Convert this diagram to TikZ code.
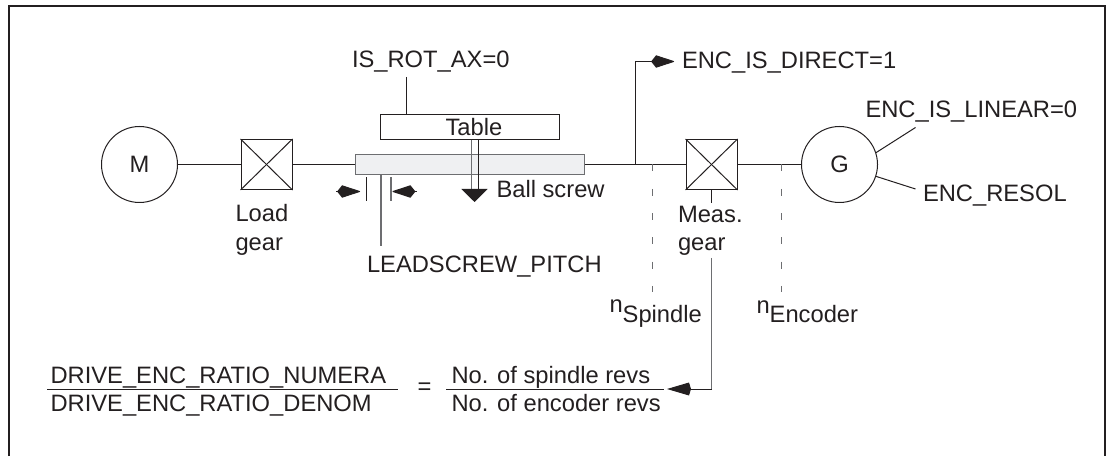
\documentclass[tikz,border=0pt]{standalone}
\usepackage{fontspec}
\setmainfont{Liberation Sans}
\usetikzlibrary{arrows.meta}
\definecolor{inkdark}{HTML}{231F20}
\definecolor{inkgrey}{HTML}{6D6E71}
\definecolor{screwfill}{HTML}{EFF0F2}
\tikzset{
    lbl/.style={inner sep=0pt, anchor=base west},
    lbltwo/.style={inner sep=0pt, anchor=north west, align=left},
    machine/.style={draw, circle, inner sep=0pt, minimum size=1.52cm},
    gearbox/.style={draw, rectangle, inner sep=0pt, minimum width=1.02cm, minimum height=1cm},
    kitetip/.style={-{Kite[length=.48cm, width=.25cm, inset=.1cm, round]}},
    bluntkite/.style={-{Kite[length=.48cm, width=.26cm, inset=.04cm]}},
    speedline/.style={dash pattern=on .14cm off .346cm},
}
\begin{document}
\begin{tikzpicture}[line width=.02cm, color=inkdark, font=\fontsize{13.5}{16.3}\selectfont]
        \useasboundingbox (0,0) rectangle (22.18,9.12);
        % This draws the frame, it has no line at the bottom.
            \draw[line width=.04cm] (0.18,0) -- (0.18,9) -- (22.09,9) -- (22.09,0);
        % The drive train.
            \node[machine] (motor) at (2.79,5.83) {M};
            \node[gearbox] (loadgear) at (5.33,5.83) {};
            \node[draw=inkgrey, fill=screwfill, line width=.03cm, inner sep=0pt, minimum width=4.58cm, minimum height=.4cm] (screw) at (9.40,5.83) {};
            \node[draw, inner sep=0pt, minimum width=3.57cm, minimum height=.51cm] (table) at (9.40,6.58) {};
            \node[gearbox] (measgear) at (14.23,5.83) {};
            \node[machine] (encoder) at (16.79,5.83) {G};
            \draw (motor) -- (loadgear);
            \draw (loadgear) -- (screw);
            \draw (screw) -- (measgear);
            \draw (measgear) -- (encoder);
        % This draws the crosses in the gears.
            \draw (loadgear.north west) -- (loadgear.south east);
            \draw (loadgear.north east) -- (loadgear.south west);
            \draw (measgear.north west) -- (measgear.south east);
            \draw (measgear.north east) -- (measgear.south west);
        % Below nodes are the labels.
            \node[lbl] (rotlabel) at (7.03,7.77) {IS\_ROT\_AX=0};
            \node[lbl] (tablelabel) at (8.90,6.40) {Table};
            \node[lbl] (balllabel) at (9.92,5.16) {Ball screw};
            \node[lbl] (pitchlabel) at (7.33,3.67) {LEADSCREW\_PITCH};
            \node[lbl] (directlabel) at (13.63,7.75) {ENC\_IS\_DIRECT=1};
            \node[lbl] (linearlabel) at (17.30,6.77) {ENC\_IS\_LINEAR=0};
            \node[lbl] (resollabel) at (18.45,5.08) {ENC\_RESOL};
            \node[lbltwo] (loadlabel) at (4.70,5.04) {Load\\gear};
            \node[lbltwo] (measlabel) at (13.55,5.01) {Meas.\\gear};
            \node[lbl] (spindlelabel) at (12.18,2.87) {n\raisebox{-.208cm}{Spindle}};
            \node[lbl] (encoderlabel) at (15.12,2.85) {n\raisebox{-.17cm}{Encoder}};
        % The ratio at the bottom.
            \node[lbl] (numera) at (1.00,1.46) {DRIVE\_ENC\_RATIO\_NUMERA};
            \node[lbl] (denom) at (1.00,.886) {DRIVE\_ENC\_RATIO\_DENOM};
            \node[inner sep=0pt] (equals) at (8.49,1.34) {=};
            \node[lbl] (spindlerevs) at (9.02,1.46) {No. of spindle revs};
            \node[lbl] (encoderrevs) at (9.02,.886) {No. of encoder revs};
            \coordinate (ratioa) at (.94,1.34);
            \coordinate (ratiob) at (7.95,1.34);
            \coordinate (ratioc) at (8.92,1.34);
            \coordinate (ratiod) at (13.28,1.34);
            \draw (ratioa) -- (ratiob);
            \draw (ratioc) -- (ratiod);
        % Free ends of the leader lines.
            \coordinate (rottop) at (8.13,7.58);
            \coordinate (tap) at (12.71,5.83);
            \coordinate (directtip) at (13.48,7.89);
            \coordinate (linearend) at (18.31,6.57);
            \coordinate (resolend) at (18.31,5.34);
            \coordinate (pitchend) at (7.62,4.19);
            \coordinate (measend) at (14.23,5.06);
            \coordinate (measstart) at (14.23,3.96);
            \coordinate (meastip) at (13.34,1.34);
        % Leader lines.
            \draw (rottop) -- (rottop |- table.north);
            \draw[kitetip] (tap) |- (directtip);
            \draw (encoder.18) -- (linearend);
            \draw (encoder.-18) -- (resolend);
            \draw[inkgrey, line width=.03cm] (pitchend |- screw.south) -- (pitchend);
            \draw (measgear.south) -- (measend);
            \draw[inkgrey, line width=.03cm] (measstart) -- (measstart |- meastip);
            \draw[bluntkite] (measstart |- meastip) -- (meastip);
        % This draws the arrow from the table.
            \coordinate (ballhead) at (9.49,5.34);
            \coordinate (balltip) at (9.49,5.08);
            \draw[inkgrey] (9.42,6.325) -- (9.42,5.34);
            \draw (9.56,6.325) -- (9.56,5.34);
            \draw[-{Triangle[length=.26cm, width=.52cm]}] (ballhead) -- (balltip);
        % This draws the pitch of the screw.
            \coordinate (ticka) at (7.33,5.57);
            \coordinate (tickb) at (7.82,5.57);
            \draw (ticka) -- (7.33,5.09);
            \draw[inkgrey, line width=.03cm] (tickb) -- (7.82,5.09);
            \coordinate (pitchleft) at (6.72,5.29);
            \coordinate (pitchlefttip) at (7.20,5.29);
            \coordinate (pitchright) at (8.33,5.29);
            \coordinate (pitchrighttip) at (7.85,5.29);
            \draw[kitetip] (pitchleft) -- (pitchlefttip);
            \draw[kitetip] (pitchright) -- (pitchrighttip);
        % The dashed speed lines.
            \coordinate (spindlea) at (13.05,5.83);
            \coordinate (spindleb) at (13.05,3.28);
            \coordinate (encodera) at (15.63,5.83);
            \coordinate (encoderb) at (15.63,3.28);
            \draw[inkgrey, line width=.03cm, speedline] (spindlea) -- (spindleb);
            \draw[inkgrey, line width=.03cm, speedline] (encodera) -- (encoderb);
    \end{tikzpicture}
\end{document}
